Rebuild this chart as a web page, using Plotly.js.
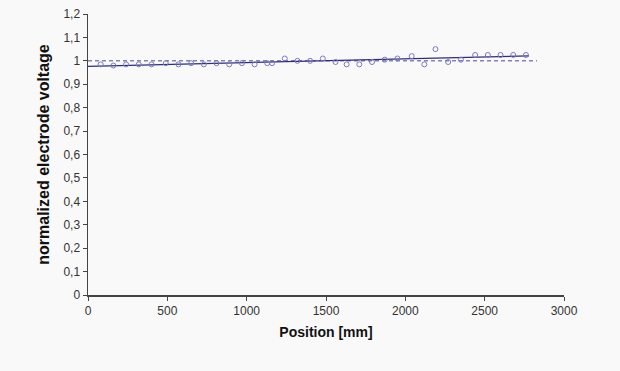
<!DOCTYPE html>
<html>
<head>
<meta charset="utf-8">
<script src="https://cdn.plot.ly/plotly-3.0.1.min.js"></script>
<style>body{margin:0;background:#f9f9f9;}#chart{width:620px;height:371px;}</style>
</head>
<body>
<div id="chart"></div>
<script>
// Measured positions [mm]
const positions = [80, 160, 240, 320, 400, 490, 570, 650, 730, 810, 890, 970, 1050, 1130, 1160,
  1240, 1320, 1400, 1480, 1560, 1630, 1710, 1790, 1870, 1950, 2040, 2120, 2190, 2270, 2350,
  2440, 2520, 2600, 2680, 2760];
// Normalized electrode voltage
const voltages = [0.985, 0.98, 0.985, 0.985, 0.985, 0.99, 0.985, 0.99, 0.985, 0.99, 0.985, 0.99, 0.985, 0.99, 0.99,
  1.01, 1.0, 1.0, 1.01, 0.995, 0.985, 0.985, 0.995, 1.005, 1.01, 1.02, 0.985, 1.05, 0.995, 1.005,
  1.025, 1.025, 1.025, 1.025, 1.025];
// Reference level
const refX = [0, 2830];
const refY = [1, 1];
// Trend line x-span
const trendX = [0, 2780];

// least-squares linear trend from the data
const n = positions.length;
const mx = positions.reduce((a, b) => a + b, 0) / n;
const my = voltages.reduce((a, b) => a + b, 0) / n;
let sxy = 0, sxx = 0;
for (let i = 0; i < n; i++) { sxy += (positions[i] - mx) * (voltages[i] - my); sxx += (positions[i] - mx) ** 2; }
const slope = sxy / sxx, icpt = my - slope * mx;
const trendY = trendX.map(x => icpt + slope * x);

const data = [
  {x: refX, y: refY, mode: 'lines', line: {color: '#4a4a9a', width: 1, dash: '4px,3px'}, hoverinfo: 'skip'},
  {x: trendX, y: trendY, mode: 'lines', line: {color: '#2c2c80', width: 1.2}},
  {x: positions, y: voltages, mode: 'markers',
   marker: {symbol: 'circle-open', size: 5, color: '#7a7ac0', line: {width: 1}}}
];

const layout = {
  width: 620, height: 371,
  paper_bgcolor: '#f9f9f9', plot_bgcolor: '#f9f9f9',
  showlegend: false,
  separators: ',.',
  margin: {l: 88, r: 56, t: 14, b: 76},
  font: {family: 'Liberation Sans, Arial, sans-serif', size: 12, color: '#333'},
  xaxis: {
    range: [0, 3000], dtick: 500, tick0: 0,
    showgrid: false, zeroline: false, showline: true, linecolor: '#444', linewidth: 1.5,
    ticks: 'outside', ticklen: 4, tickcolor: '#444',
    title: {text: '<b>Position [mm]</b>', font: {size: 14, color: '#111'}, standoff: 10}
  },
  yaxis: {
    range: [0, 1.2], dtick: 0.1, tick0: 0,
    showgrid: false, zeroline: false, showline: true, linecolor: '#444', linewidth: 1.5,
    ticks: 'outside', ticklen: 4, tickcolor: '#444',
    title: {text: '<b>normalized electrode voltage</b>', font: {size: 16, color: '#111'}, standoff: 10}
  }
};

Plotly.newPlot('chart', data, layout, {displayModeBar: false, staticPlot: true});
</script>
</body>
</html>
